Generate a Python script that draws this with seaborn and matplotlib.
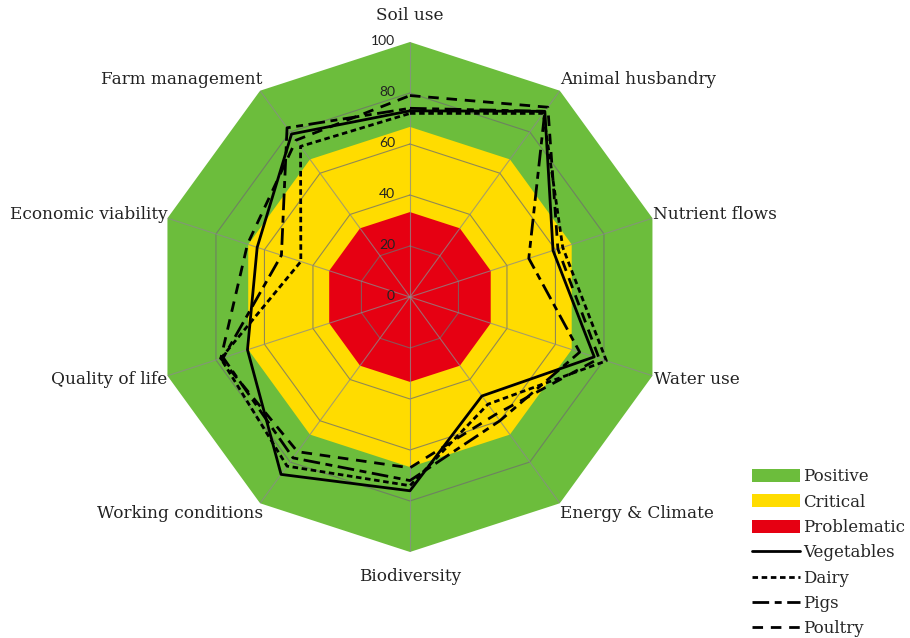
import numpy as np
import pandas as pd
import matplotlib
matplotlib.use("Agg")
import matplotlib.pyplot as plt
from matplotlib.patches import Patch
from matplotlib.lines import Line2D
import seaborn as sns

categories = ["Soil use", "Animal husbandry", "Nutrient flows", "Water use",
              "Energy & Climate", "Biodiversity", "Working conditions",
              "Quality of life", "Economic viability", "Farm management"]
vegetables = [73, 90, 59, 76, 48, 76, 86, 67, 63, 79]
dairy      = [72, 89, 63, 81, 52, 74, 82, 78, 45, 73]
pigs       = [74, 90, 49, 70, 60, 72, 78, 77, 53, 82]
poultry    = [79, 92, 61, 78, 57, 67, 75, 78, 67, 76]
series_names = ["Vegetables", "Dairy", "Pigs", "Poultry"]
band_names = ["Positive", "Critical", "Problematic"]
band_limits = [100, 66.7, 33.3]
band_colors = ["#6cbd3c", "#ffdc00", "#e60012"]
ring_values = [20, 40, 60, 80]
tick_values = [0, 20, 40, 60, 80, 100]

sns.set_theme(style="white")

n = len(categories)
theta = np.linspace(0, 2 * np.pi, n, endpoint=False)
theta_closed = np.append(theta, 2 * np.pi)

rows = []
for name, vals in zip(series_names, [vegetables, dairy, pigs, poultry]):
    closed = list(vals) + [vals[0]]
    for t, v in zip(theta_closed, closed):
        rows.append({"theta": t, "value": v, "series": name})
df = pd.DataFrame(rows)

fig = plt.figure(figsize=(9.1, 6.38), dpi=100)
ax = fig.add_axes([0.1703, 0.1348, 0.5604, 0.7994], projection="polar")
ax.set_theta_zero_location("N")
ax.set_theta_direction(-1)
ax.set_ylim(0, 100)
ax.grid(False)
ax.spines["polar"].set_visible(False)
ax.set_xticks([])
ax.set_yticks([])
ax.patch.set_alpha(0)

# bands
for lim, col in zip(band_limits, band_colors):
    ax.fill(theta_closed, [lim] * (n + 1), color=col, lw=0, zorder=1)

# grid rings and spokes
for rv in ring_values:
    ax.plot(theta_closed, [rv] * (n + 1), color="#6e6e6e", lw=0.8, alpha=0.75, zorder=2)
for t in theta:
    ax.plot([t, t], [0, 100], color="#8a8a8a", lw=0.8, alpha=0.75, zorder=2)

dashes = {"Vegetables": "", "Dairy": (2.0, 1.3), "Pigs": (6.0, 2.0, 2.5, 2.0), "Poultry": (3.8, 2.8)}
palette = {s: "black" for s in series_names}
sns.lineplot(data=df, x="theta", y="value", hue="series", style="series",
             palette=palette, dashes=dashes, sort=False, estimator=None,
             lw=2.0, legend=False, ax=ax, zorder=5)
ax.set_xlabel("")
ax.set_ylabel("")
ax.set_ylim(0, 100)

# tick labels
for tv in tick_values:
    ax.annotate(str(tv), xy=(0, tv), xytext=(-15, 1), textcoords="offset pixels",
                ha="right", va="center", fontsize=10, family="Lato", color="#222222",
                zorder=6)

# category labels
label_offsets = [(0, 27, "center"), (0, 11, "left"), (1, 4, "left"), (2, -4, "left"),
                 (0, -10, "left"), (0, -25, "center"), (3, -10, "right"),
                 (0, -4, "right"), (0, 4, "right"), (2, 11, "right")]
for t, lab, (dx, dy, ha) in zip(theta, categories, label_offsets):
    ax.annotate(lab, xy=(t, 100), xytext=(dx, dy), textcoords="offset pixels",
                ha=ha, va="center", fontsize=12.2, family="DejaVu Serif",
                color="#222222", annotation_clip=False)

# legend
handles = [Patch(facecolor=c, edgecolor="none") for c in band_colors]
for s in series_names:
    d = dashes[s]
    if d == "":
        handles.append(Line2D([0], [0], color="black", lw=2.0))
    else:
        handles.append(Line2D([0], [0], color="black", lw=2.0, dashes=d))
labels = band_names + series_names
fig.legend(handles, labels, loc="upper left", bbox_to_anchor=(0.826, 0.266),
           frameon=False, prop={"family": "DejaVu Serif", "size": 12},
           handlelength=2.9, handleheight=0.8, handletextpad=0.2, labelspacing=0.5,
           borderpad=0, borderaxespad=0)

fig.savefig("out.png", dpi=100)
